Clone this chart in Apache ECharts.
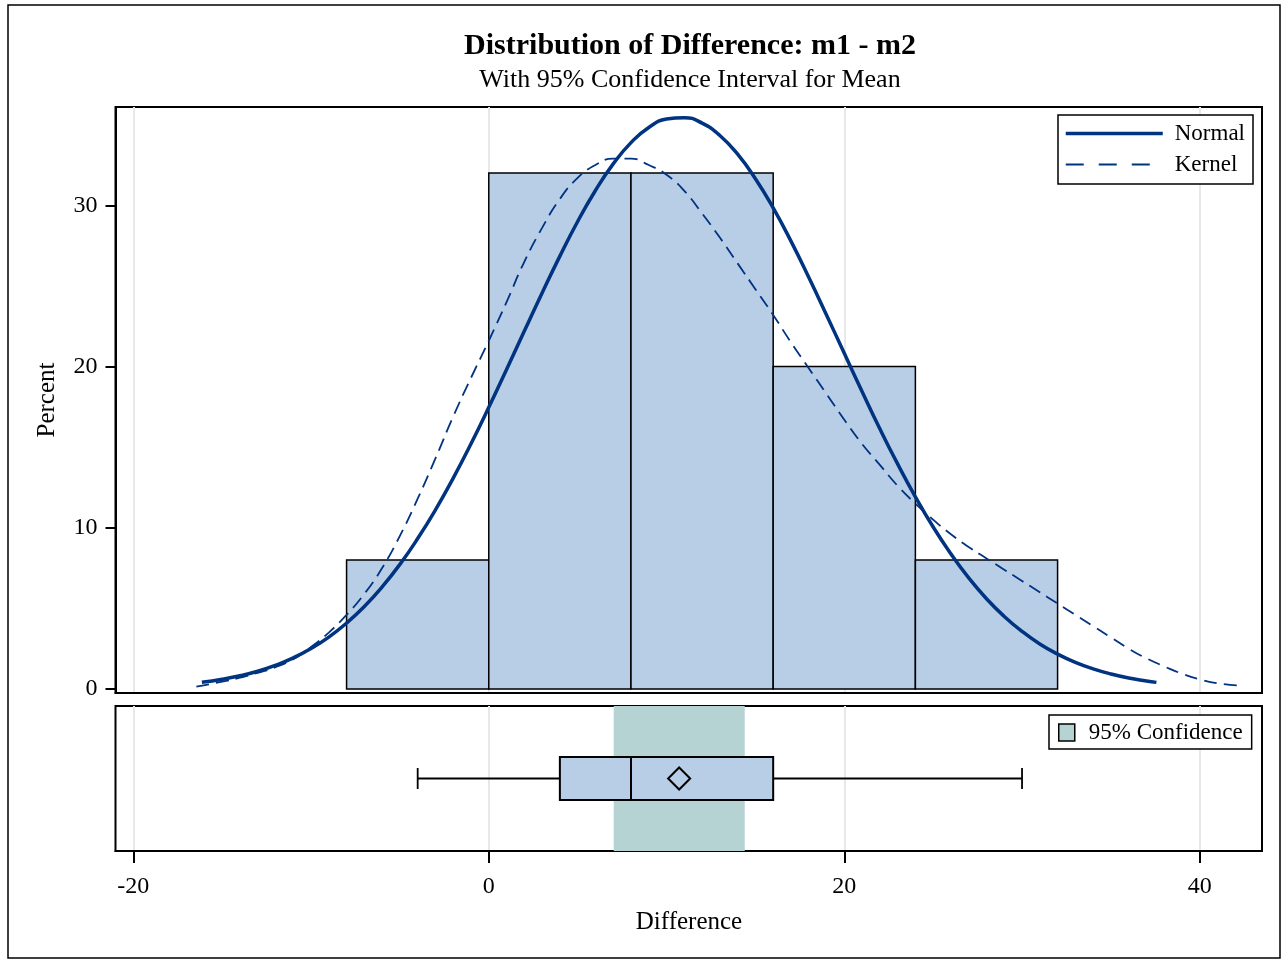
<!DOCTYPE html>
<html><head><meta charset="utf-8">
<script src="https://cdn.jsdelivr.net/npm/echarts@6/dist/echarts.min.js"></script>
<style>html,body{margin:0;padding:0;background:#fff}#c{width:1283px;height:961px}</style>
</head><body><div id="c"></div>
<script>
// ---- data ----
const binStart = [-8, 0, 8, 16, 24];
const binEnd = [0, 8, 16, 24, 32];
const binPercent = [8, 32, 32, 20, 8];

const normalX = [-16.14, -15, -14, -13, -12, -11, -10, -9, -8, -7, -6, -5, -4, -3, -2, -1, 0, 1, 2, 3, 4, 5, 6, 7, 8, 9, 10, 11, 12, 13, 14, 15, 16, 17, 18, 19, 20, 21, 22, 23, 24, 25, 26, 27, 28, 29, 30, 31, 32, 33, 34, 35, 36, 37, 37.56];
const normalY = [0.41, 0.6, 0.82, 1.1, 1.47, 1.93, 2.51, 3.22, 4.09, 5.12, 6.33, 7.73, 9.33, 11.11, 13.08, 15.21, 17.47, 19.82, 22.2, 24.57, 26.85, 29.0, 30.92, 32.57, 33.89, 34.83, 35.35, 35.44, 35.1, 34.33, 33.17, 31.65, 29.84, 27.78, 25.54, 23.2, 20.82, 18.45, 16.14, 13.96, 11.92, 10.05, 8.38, 6.89, 5.6, 4.5, 3.57, 2.79, 2.16, 1.65, 1.25, 0.93, 0.68, 0.5, 0.41];

const kernelX = [-16.45, -15, -14, -13, -12, -11, -10, -9, -8, -7, -6, -5, -4, -3, -2, -1, 0, 1, 2, 3, 4, 5, 6, 7, 8, 9, 10, 11, 12, 13, 14, 15, 16, 17, 18, 19, 20, 21, 22, 23, 24, 25, 26, 27, 28, 29, 30, 31, 32, 33, 34, 35, 36, 37, 38, 39, 40, 41, 42.44];
const kernelY = [0.15, 0.45, 0.7, 1.0, 1.35, 1.85, 2.6, 3.5, 4.6, 5.9, 7.5, 9.5, 11.8, 14.3, 16.9, 19.3, 21.6, 24.0, 26.5, 28.6, 30.4, 31.7, 32.5, 32.9, 32.9, 32.5, 31.9, 30.9, 29.5, 28.0, 26.4, 24.8, 23.2, 21.5, 19.9, 18.3, 16.7, 15.2, 13.9, 12.6, 11.5, 10.5, 9.6, 8.8, 8.1, 7.4, 6.7, 6.0, 5.3, 4.6, 3.9, 3.2, 2.5, 1.9, 1.4, 0.95, 0.6, 0.35, 0.19];

const boxStats = [-4, 4, 8, 16, 30];   // whisker low, Q1, median, Q3, whisker high
const meanValue = 10.71;
const ciMean = [7.03, 14.40];
const xTicks = [-20, 0, 20, 40];
const yTicks = [0, 10, 20, 30];

// ---- styling ----
const FONT = "'Liberation Serif', 'Times New Roman', serif";
const LINE = '#003380';
const BAR = '#b8cde6';
const BAND = '#b5d3d2';
const GRIDC = '#e8e8e8';
const HIDE_SYMBOL = {color: 'rgba(0,0,0,0)', borderWidth: 0, opacity: 0};

const chart = echarts.init(document.getElementById('c'), null, {renderer: 'canvas'});

const option = {
  backgroundColor: '#fff',
  animation: false,
  grid: [
    {left: 115.5, top: 107, right: 21, height: 586, show: true, borderColor: '#000', borderWidth: 2, backgroundColor: 'transparent'},
    {left: 115.5, top: 706, right: 21, height: 145, show: true, borderColor: '#000', borderWidth: 2, backgroundColor: 'transparent'}
  ],
  xAxis: [
    {type: 'value', gridIndex: 0, min: -21, max: 43.5,
     axisLine: {show: true, onZero: false, lineStyle: {color: '#000', width: 2}},
     axisTick: {show: false, customValues: xTicks},
     axisLabel: {show: false, customValues: xTicks},
     splitLine: {show: true, lineStyle: {color: GRIDC, width: 2}}},
    {type: 'value', gridIndex: 1, min: -21, max: 43.5,
     axisLine: {show: true, onZero: false, lineStyle: {color: '#000', width: 2}},
     axisTick: {show: true, length: 12, customValues: xTicks, lineStyle: {color: '#000', width: 2}},
     axisLabel: {show: true, customValues: xTicks, margin: 24, fontSize: 24, fontFamily: FONT, color: '#000'},
     splitLine: {show: true, lineStyle: {color: GRIDC, width: 2}}}
  ],
  yAxis: [
    {type: 'value', gridIndex: 0, min: -0.25, max: 36.1,
     axisLine: {show: true, onZero: false, lineStyle: {color: '#000', width: 2}},
     axisTick: {show: true, length: 10, customValues: yTicks, lineStyle: {color: '#000', width: 2}},
     axisLabel: {show: true, customValues: yTicks, margin: 18, fontSize: 24, fontFamily: FONT, color: '#000'},
     splitLine: {show: false}},
    {type: 'value', gridIndex: 1, min: 0, max: 1, show: false, splitLine: {show: false}}
  ],
  legend: [
    {orient: 'vertical', left: 1058, top: 115, padding: [7, 8, 8, 6],
     itemWidth: 97, itemHeight: 14, itemGap: 8,
     borderColor: '#000', borderWidth: 1.5, backgroundColor: '#fff',
     textStyle: {fontSize: 23, fontFamily: FONT, color: '#000', padding: [0, 0, 0, 7]},
     data: [
       {name: 'Normal', lineStyle: {width: 3.5}, itemStyle: HIDE_SYMBOL},
       {name: 'Kernel', lineStyle: {type: [18, 15], width: 2}, itemStyle: HIDE_SYMBOL}
     ]},
    {orient: 'vertical', left: 1049, top: 715, padding: [6, 9, 5, 9],
     itemWidth: 16, itemHeight: 17,
     borderColor: '#000', borderWidth: 1.5, backgroundColor: '#fff',
     itemStyle: {borderColor: '#000', borderWidth: 1.5},
     textStyle: {fontSize: 23, fontFamily: FONT, color: '#000', padding: [0, 0, 0, 9]},
     data: [{name: '95% Confidence', icon: 'rect'}]}
  ],
  graphic: [
    {type: 'rect', shape: {x: 8, y: 5, width: 1272, height: 953}, style: {fill: null, stroke: '#000', lineWidth: 1.5}, z: 100, silent: true},
    {type: 'text', x: 690, y: 46, style: {text: 'Distribution of Difference: m1 - m2', font: "bold 30px 'Liberation Serif'", fill: '#000', textAlign: 'center', textVerticalAlign: 'middle'}},
    {type: 'text', x: 690, y: 80, style: {text: 'With 95% Confidence Interval for Mean', font: "26px 'Liberation Serif'", fill: '#000', textAlign: 'center', textVerticalAlign: 'middle'}},
    {type: 'text', x: 689, y: 922, style: {text: 'Difference', font: "25px 'Liberation Serif'", fill: '#000', textAlign: 'center', textVerticalAlign: 'middle'}},
    {type: 'text', x: 47, y: 400, rotation: Math.PI / 2, style: {text: 'Percent', font: "25px 'Liberation Serif'", fill: '#000', textAlign: 'center', textVerticalAlign: 'middle'}}
  ],
  series: [
    {name: 'Histogram', type: 'custom', xAxisIndex: 0, yAxisIndex: 0, z: 2,
     data: binStart.map((s, i) => [s, binEnd[i], binPercent[i]]),
     encode: {x: [0, 1], y: 2},
     renderItem: function (params, api) {
       const p0 = api.coord([api.value(0), 0]);
       const p1 = api.coord([api.value(1), api.value(2)]);
       return {type: 'rect', shape: {x: p0[0], y: p1[1], width: p1[0] - p0[0], height: p0[1] - p1[1]},
               style: {fill: BAR, stroke: '#000', lineWidth: 1.5}};
     }},
    {name: 'Normal', type: 'line', xAxisIndex: 0, yAxisIndex: 0, z: 4, smooth: true, symbol: 'none',
     itemStyle: {color: LINE},
     lineStyle: {color: LINE, width: 3.5},
     data: normalX.map((x, i) => [x, normalY[i]])},
    {name: 'Kernel', type: 'line', xAxisIndex: 0, yAxisIndex: 0, z: 3, smooth: true, symbol: 'none',
     itemStyle: {color: LINE},
     lineStyle: {color: LINE, width: 1.8, type: [13, 7]},
     data: kernelX.map((x, i) => [x, kernelY[i]])},
    {name: '95% Confidence', type: 'custom', xAxisIndex: 1, yAxisIndex: 1, z: 2,
     itemStyle: {color: BAND},
     data: [[ciMean[0], ciMean[1]]],
     renderItem: function (params, api) {
       const a = api.coord([api.value(0), 1]);
       const b = api.coord([api.value(1), 0]);
       return {type: 'rect', shape: {x: a[0], y: a[1], width: b[0] - a[0], height: b[1] - a[1]},
               style: {fill: BAND}};
     }},
    {name: 'Box', type: 'custom', xAxisIndex: 1, yAxisIndex: 1, z: 3,
     data: [boxStats.concat([meanValue])],
     renderItem: function (params, api) {
       const X = v => api.coord([v, 0.5])[0];
       const cy = api.coord([0, 0.5])[1];
       const lo = X(api.value(0)), q1 = X(api.value(1)), md = X(api.value(2)), q3 = X(api.value(3)), hi = X(api.value(4)), mn = X(api.value(5));
       const bh = 21.5, ch = 10.5, dh = 11;
       const ls = {stroke: '#000', lineWidth: 1.8};
       return {type: 'group', children: [
         {type: 'line', shape: {x1: lo, y1: cy, x2: q1, y2: cy}, style: ls},
         {type: 'line', shape: {x1: q3, y1: cy, x2: hi, y2: cy}, style: ls},
         {type: 'line', shape: {x1: lo, y1: cy - ch, x2: lo, y2: cy + ch}, style: ls},
         {type: 'line', shape: {x1: hi, y1: cy - ch, x2: hi, y2: cy + ch}, style: ls},
         {type: 'rect', shape: {x: q1, y: cy - bh, width: q3 - q1, height: 2 * bh}, style: {fill: BAR, stroke: '#000', lineWidth: 2}},
         {type: 'line', shape: {x1: md, y1: cy - bh, x2: md, y2: cy + bh}, style: {stroke: '#000', lineWidth: 2}},
         {type: 'polygon', shape: {points: [[mn, cy - dh], [mn + dh, cy], [mn, cy + dh], [mn - dh, cy]]}, style: {fill: 'none', stroke: '#000', lineWidth: 2}}
       ]};
     }}
  ]
};
chart.setOption(option);
</script>
</body></html>
